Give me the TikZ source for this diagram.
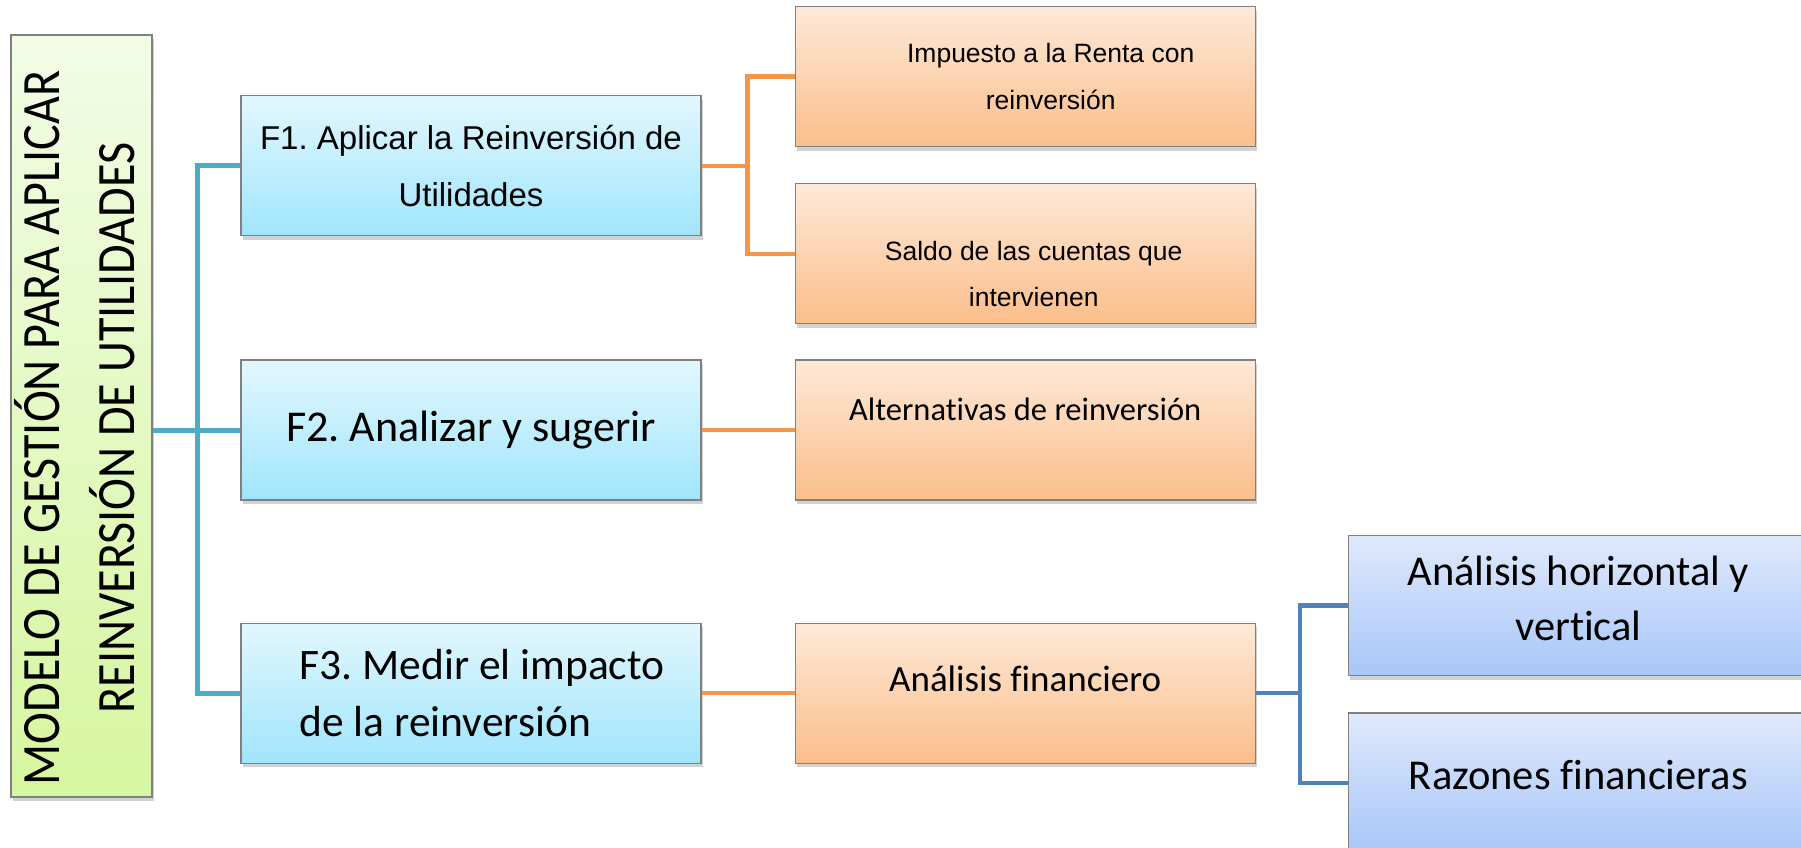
\documentclass[tikz,border=0pt]{standalone}
\usepackage{fontspec}
\setmainfont{Carlito}[Ligatures=NoCommon]
\newfontfamily\arialfont{Liberation Sans}[Ligatures=NoCommon]
\newfontfamily\narrowfont{Carlito}[FakeStretch=0.89, Ligatures=NoCommon]
\usepackage{graphicx}
\usepackage{xcolor}
\usetikzlibrary{positioning,shadows}
\frenchspacing

\definecolor{verdeArriba}{RGB}{242,252,230}
\definecolor{verdeAbajo}{RGB}{214,246,160}
\definecolor{cianArriba}{RGB}{226,247,254}
\definecolor{cianAbajo}{RGB}{160,229,252}
\definecolor{naranjaArriba}{RGB}{253,233,216}
\definecolor{naranjaAbajo}{RGB}{251,190,138}
\definecolor{azulArriba}{RGB}{223,233,252}
\definecolor{azulAbajo}{RGB}{168,198,248}
\definecolor{lineaCian}{RGB}{75,172,198}
\definecolor{lineaNaranja}{RGB}{247,150,70}
\definecolor{lineaAzul}{RGB}{79,129,189}

\begin{document}
\begin{tikzpicture}[
    x=1pt, y=-1pt,
    node distance=122pt and 93pt,
    caja/.style={rectangle, draw=black!50, line width=1.2pt, inner sep=0pt, minimum width=460pt, minimum height=140pt, align=center, drop shadow={shadow xshift=1.5pt, shadow yshift=-4pt, opacity=0.35}},
    raiz/.style={caja, minimum width=141pt, minimum height=762pt, top color=verdeArriba, bottom color=verdeAbajo},
    fase/.style={caja, top color=cianArriba, bottom color=cianAbajo},
    tarea/.style={caja, top color=naranjaArriba, bottom color=naranjaAbajo},
    hoja/.style={caja, top color=azulArriba, bottom color=azulAbajo},
    tallo/.style={line width=5pt, lineaCian},
    rama/.style={line width=4.5pt, lineaNaranja},
    enlace/.style={line width=4.5pt, lineaAzul}
]
    \path[use as bounding box, fill=white] (0,0) rectangle (1801,848);

    % Modelo (left, vertical text)
    \node[raiz, font=\narrowfont\fontsize{54}{75}\selectfont] (modelo) at (81.5,416) {\makebox[0pt]{\rotatebox{90}{\begin{tabular}{@{}c@{}}MODELO DE GESTIÓN PARA APLICAR\hspace*{24pt}\\ REINVERSIÓN DE UTILIDADES\hspace*{24pt}\end{tabular}}}};

    % Fases (middle column)
    \node[fase, font=\fontsize{44}{52}\selectfont] (f2) at (471,430) {F2. Analizar y sugerir};
    \node[fase, above=123pt of f2, font=\arialfont\fontsize{33}{57}\selectfont] (f1) {F1. Aplicar la Reinversión de\\Utilidades};
    \node[fase, below=of f2, align=left, font=\fontsize{43.5}{57}\selectfont] (f3) {\hspace*{22pt}F3. Medir el impacto\\\hspace*{22pt}de la reinversión};

    % Tareas (orange column)
    \node[tarea, right=of f2, font=\fontsize{32.5}{40}\selectfont] (alt) {Alternativas de reinversión\rule[-42pt]{0pt}{0pt}};
    \node[tarea, above=35pt of alt, font=\arialfont\fontsize{26.5}{46}\selectfont] (saldo) {\hspace*{17pt}\rule{0pt}{59pt}Saldo de las cuentas que\\\hspace*{17pt}intervienen};
    \node[tarea, above=36pt of saldo, font=\arialfont\fontsize{26.5}{47}\selectfont] (imp) {\hspace*{51pt}Impuesto a la Renta con\\\hspace*{51pt}reinversión};
    \node[tarea, right=of f3, font=\fontsize{37}{44}\selectfont] (af) {Análisis financiero\rule[-30pt]{0pt}{0pt}};

    % Hojas (right, blue)
    \node[hoja, right=92pt of af, yshift=87.5pt, font=\fontsize{42.5}{55}\selectfont] (horiz) {Análisis horizontal y\\vertical\rule[-14pt]{0pt}{0pt}};
    \node[hoja, below=36pt of horiz, font=\fontsize{42.5}{55}\selectfont] (razones) {Razones financieras\rule[-17pt]{0pt}{0pt}};

    % Trunk (teal)
    \draw[tallo] (modelo.east |- f2.west) -- (f2.west);
    \draw[tallo] (f1.west) -- ++(-43pt,0) |- (f3.west);

    % Ramas (orange)
    \draw[rama] (f1.east) -- ++(46pt,0) |- (imp.west);
    \draw[rama] (f1.east) ++(46pt,0) |- (saldo.west);
    \draw[rama] (f2.east) -- (alt.west);
    \draw[rama] (f3.east) -- (af.west);

    % Enlaces (blue)
    \draw[enlace] (af.east) -- ++(44pt,0) |- (horiz.west);
    \draw[enlace] (af.east) ++(44pt,0) |- (razones.west);

\end{tikzpicture}
\end{document}
